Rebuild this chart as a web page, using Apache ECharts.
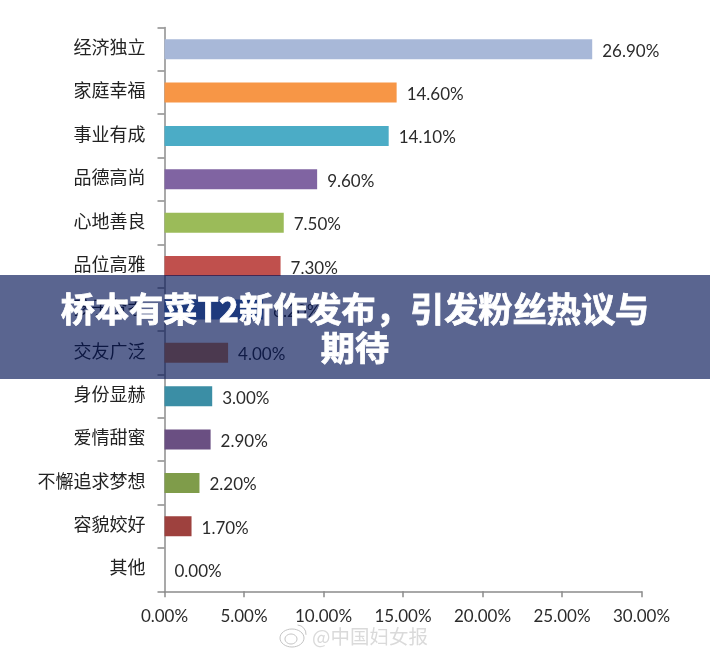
<!DOCTYPE html>
<html>
<head>
<meta charset="utf-8">
<style>html,body{margin:0;padding:0;background:#fff}#main{width:710px;height:655px}</style>
<script src="https://cdn.jsdelivr.net/npm/echarts@6/dist/echarts.min.js"></script>
</head>
<body>
<div id="main"></div>
<script>
const categories = ['经济独立', '家庭幸福', '事业有成', '品德高尚', '心地善良', '品位高雅', '孩子贤孝', '交友广泛', '身份显赫', '爱情甜蜜', '不懈追求梦想', '容貌姣好', '其他']
const values = [26.9, 14.6, 14.1, 9.6, 7.5, 7.3, 6.2, 4.0, 3.0, 2.9, 2.2, 1.7, 0]
const barColors = ['#a8b8d8', '#f79646', '#4bacc6', '#8064a2', '#9bbb59', '#c0504d', '#5383c8', '#d38047', '#3b8ea5', '#6a4f82', '#7f9c4a', '#9e413e', '#999999']
const xTicks = [0, 5, 10, 15, 20, 25, 30]

const chart = echarts.init(document.getElementById('main'))
const numFont = 'Lato, "Liberation Sans", sans-serif'
const cjkFont = '"Noto Sans CJK SC", sans-serif'
const bannerFont = 'bold 34.2px "Noto Sans CJK SC", sans-serif'

chart.setOption({
  animation: false,
  backgroundColor: '#fff',
  grid: { left: 164.5, right: 68.5, top: 27.5, bottom: 63.7 },
  xAxis: {
    type: 'value',
    min: xTicks[0],
    max: xTicks[xTicks.length - 1],
    interval: 5,
    splitLine: { show: false },
    axisLine: { show: true, lineStyle: { color: '#8c8c8c', width: 1.5 } },
    axisTick: { show: true, length: 6, lineStyle: { color: '#8c8c8c', width: 1.5 } },
    axisLabel: {
      color: '#2b2b2b',
      fontFamily: numFont,
      fontSize: 17,
      margin: 17,
      formatter: v => v.toFixed(2) + '%'
    }
  },
  yAxis: {
    type: 'category',
    inverse: true,
    data: categories,
    axisLine: { show: true, lineStyle: { color: '#8c8c8c', width: 1.5 } },
    axisTick: { show: true, length: 7, lineStyle: { color: '#8c8c8c', width: 1.5 } },
    axisLabel: {
      margin: 19,
      formatter: v => '{t|' + v + '}',
      // bottom padding lifts the text a little above the bar centre
      rich: { t: { color: '#222', fontFamily: cjkFont, fontSize: 18, padding: [0, 0, 4, 0] } }
    }
  },
  series: [{
    type: 'bar',
    barWidth: 20,
    data: values.map((v, i) => ({ value: v, itemStyle: { color: barColors[i] } })),
    label: {
      show: true,
      position: 'right',
      distance: 10,
      offset: [0, 2],
      color: '#2b2b2b',
      fontFamily: numFont,
      fontSize: 17,
      formatter: p => p.value.toFixed(2) + '%'
    }
  }],
  graphic: [
    {
      type: 'rect', z: 100,
      shape: { x: 0, y: 275, width: 710, height: 104 },
      style: { fill: 'rgba(1,18,84,0.65)' }
    },
    {
      type: 'text', z: 101, x: 355, y: 309,
      style: {
        text: '桥本有菜T2新作发布，引发粉丝热议与',
        fill: '#fff', stroke: '#fff', lineWidth: 0.8, font: bannerFont,
        textAlign: 'center', textVerticalAlign: 'middle'
      }
    },
    {
      type: 'text', z: 101, x: 355, y: 348.5,
      style: {
        text: '期待',
        fill: '#fff', stroke: '#fff', lineWidth: 0.8, font: bannerFont,
        textAlign: 'center', textVerticalAlign: 'middle'
      }
    },
    {
      type: 'ellipse', z: 101,
      shape: { cx: 292, cy: 638, rx: 12, ry: 9 },
      style: { fill: 'none', stroke: '#c4c4c4', lineWidth: 1 }
    },
    {
      type: 'ellipse', z: 101,
      shape: { cx: 291, cy: 639, rx: 6, ry: 5 },
      style: { fill: 'none', stroke: '#c4c4c4', lineWidth: 1 }
    },
    {
      type: 'arc', z: 101,
      shape: { cx: 297, cy: 634, r: 9, startAngle: -1.5, endAngle: 0.1 },
      style: { fill: 'none', stroke: '#c4c4c4', lineWidth: 1 }
    },
    {
      type: 'text', z: 101, x: 312, y: 637,
      style: {
        text: '@中国妇女报',
        fill: '#dadada', font: '19.5px "Noto Sans CJK SC", sans-serif',
        textVerticalAlign: 'middle'
      }
    }
  ]
})
</script>
</body>
</html>
